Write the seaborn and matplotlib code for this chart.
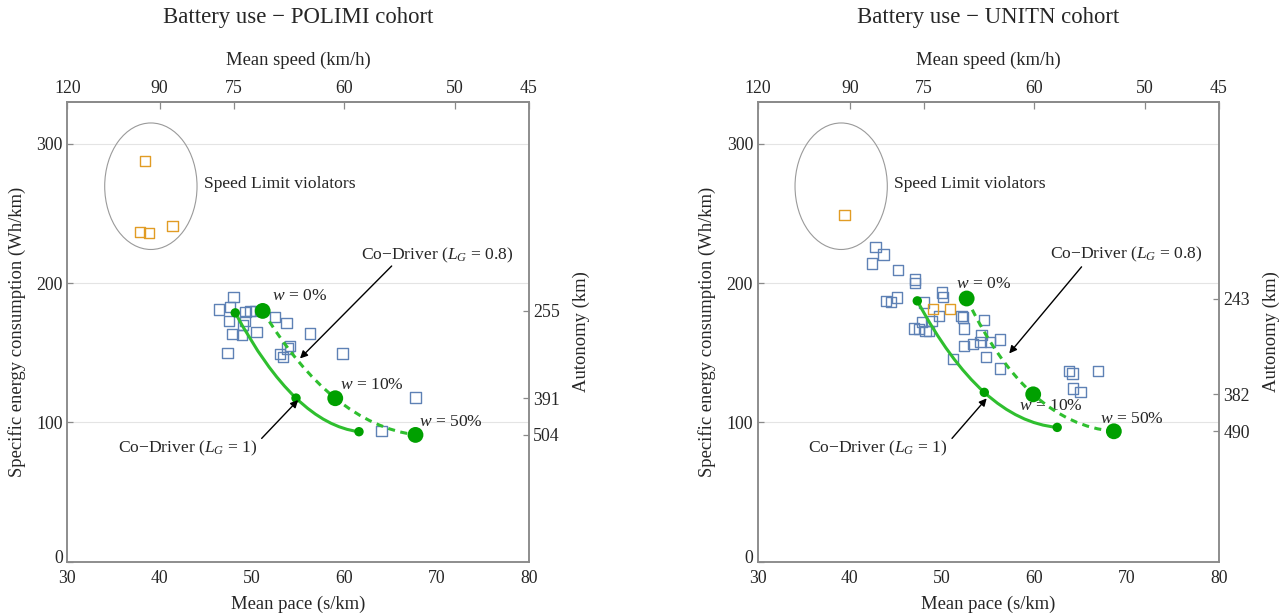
import numpy as np
import pandas as pd
import matplotlib
matplotlib.use("Agg")
import matplotlib.pyplot as plt
from matplotlib.path import Path
from matplotlib.patches import PathPatch, Ellipse
from matplotlib.transforms import ScaledTranslation
import seaborn as sns

# ---------------- data ----------------
# POLIMI cohort: mean pace (s/km) and specific energy consumption (Wh/km)
polimi_pace = [47.98, 46.46, 47.62, 47.54, 49.28, 49.79, 50.33, 49.24, 49.06, 48.89,
               47.91, 50.51, 47.37, 52.49, 53.76, 56.28, 54.12, 53.83, 53.03, 53.39,
               59.82, 67.73, 64.05]
polimi_cons = [190.1, 181.0, 182.9, 172.9, 179.3, 180.1, 180.1, 172.9, 169.8, 162.6,
               163.4, 165.0, 150.0, 175.8, 171.5, 163.8, 154.8, 153.1, 149.0, 147.1,
               149.5, 118.0, 94.1]
polimi_violator_pace = [38.41, 37.87, 38.88, 41.41]
polimi_violator_cons = [287.5, 236.7, 236.0, 241.0]
polimi_cd1_pace = [48.19, 54.77, 61.59]       # Co-Driver, L_G = 1
polimi_cd1_cons = [178.6, 117.5, 93.4]
polimi_cd08_pace = [51.16, 59.02, 67.71]      # Co-Driver, L_G = 0.8
polimi_cd08_cons = [180.0, 117.4, 91.1]

# UNITN cohort
unitn_pace = [42.79, 43.62, 42.39, 45.21, 47.05, 47.05, 43.91, 44.43, 45.07, 49.97,
              50.11, 48.02, 49.68, 48.86, 47.78, 46.94, 47.48, 48.21, 48.60, 52.11,
              52.28, 54.52, 52.36, 54.27, 56.26, 55.17, 54.17, 53.36, 52.36, 54.74,
              56.26, 51.20, 63.76, 64.13, 66.90, 64.20, 65.00]
unitn_cons = [225.9, 220.4, 214.0, 209.5, 202.5, 200.1, 187.2, 186.5, 189.6, 193.1,
              189.9, 186.0, 176.3, 172.9, 172.2, 167.4, 166.9, 165.7, 165.5, 176.3,
              175.3, 173.4, 167.4, 162.6, 159.5, 157.8, 157.8, 156.2, 154.8, 147.1,
              138.8, 145.4, 137.1, 135.2, 136.8, 124.4, 122.0]
unitn_violator_pace = [39.39, 48.97, 50.84]
unitn_violator_cons = [248.6, 181.5, 181.5]
unitn_cd1_pace = [47.30, 54.56, 62.46]
unitn_cd1_cons = [187.2, 121.6, 96.5]
unitn_cd08_pace = [52.65, 59.86, 68.60]
unitn_cd08_cons = [188.9, 120.2, 93.7]

battery_wh = 45900                      # usable battery energy (Wh)
speed_ticks = [120, 90, 75, 60, 50, 45]  # km/h
pace_ticks = [30, 40, 50, 60, 70, 80]
cons_ticks = [0, 100, 200, 300]
weights = ["0%", "10%", "50%"]

# ---------------- style ----------------
sns.set_style("white")
plt.rcParams["font.family"] = ["Liberation Serif", "DejaVu Serif"]
plt.rcParams["mathtext.fontset"] = "custom"
plt.rcParams["mathtext.rm"] = "Liberation Serif"
plt.rcParams["mathtext.it"] = "Liberation Serif:italic"
plt.rcParams["mathtext.bf"] = "Liberation Serif:bold"

BLUE = "#5e81b5"
ORANGE = "#e19c24"
GREEN_LINE = "#2fbf2f"
GREEN_DOT = "#00a000"
SPINE = "#8a8a8a"
GRID = "#e4e4e4"
TICK_FS = 12.8
LABEL_FS = 13.4
ANN_FS = 12.6
TITLE_FS = 16.4


def to_speed(p):
    p = np.asarray(p, dtype=float)
    with np.errstate(divide="ignore", invalid="ignore"):
        return 3600.0 / p


def smooth_curve(ax, xs, ys, **kw):
    """Quadratic Bezier passing through the three given points."""
    p0, m, p2 = np.column_stack([xs, ys]).astype(float)
    ctrl = 2 * m - 0.5 * (p0 + p2)
    path = Path([p0, ctrl, p2], [Path.MOVETO, Path.CURVE3, Path.CURVE3])
    ax.add_patch(PathPatch(path, fill=False, **kw))


def panel(ax, title, pace, cons, vpace, vcons, cd1x, cd1y, cd08x, cd08y, layout):
    ax.set_xlim(30, 80)
    ax.set_ylim(0, 330)

    drivers = pd.DataFrame({"pace": pace, "cons": cons})
    violators = pd.DataFrame({"pace": vpace, "cons": vcons})
    sns.scatterplot(data=drivers, x="pace", y="cons", ax=ax, marker="s", s=56,
                    facecolor="none", edgecolor=BLUE, linewidth=1.0, zorder=3)
    sns.scatterplot(data=violators, x="pace", y="cons", ax=ax, marker="s", s=56,
                    facecolor="none", edgecolor=ORANGE, linewidth=1.0, zorder=3)

    # Co-Driver trade-off curves
    smooth_curve(ax, cd1x, cd1y, edgecolor=GREEN_LINE, lw=2.2, zorder=4,
                 capstyle="round")
    smooth_curve(ax, cd08x, cd08y, edgecolor=GREEN_LINE, lw=2.2, zorder=4,
                 linestyle=(0, (2.3, 1.8)), capstyle="butt")
    sns.scatterplot(x=cd1x, y=cd1y, ax=ax, s=46, color=GREEN_DOT,
                    edgecolor="none", zorder=5)
    sns.scatterplot(x=cd08x, y=cd08y, ax=ax, s=130, color=GREEN_DOT,
                    edgecolor="none", zorder=5)

    # speed limit violators
    ax.add_patch(Ellipse((39.05, 269.4), width=10.0, height=90.7, fill=False,
                         edgecolor="#9a9a9a", lw=0.8, zorder=2))
    ax.text(44.8, 271.0, "Speed Limit violators", fontsize=ANN_FS,
            ha="left", va="center")

    for w, (tx, ty) in zip(weights, layout["w"]):
        ax.text(tx, ty, f"$w$ = {w}", fontsize=ANN_FS, ha="center", va="center")

    arrow = dict(arrowstyle="-|>", color="black", lw=1.0, mutation_scale=11,
                 shrinkA=0, shrinkB=0)
    ax.text(*layout["t08"], "Co\u2212Driver ($L_G$ = 0.8)", fontsize=ANN_FS,
            ha="center", va="center")
    ax.annotate("", xy=layout["a08"][1], xytext=layout["a08"][0],
                arrowprops=arrow, zorder=6)
    ax.text(*layout["t1"], "Co\u2212Driver ($L_G$ = 1)", fontsize=ANN_FS,
            ha="center", va="center")
    ax.annotate("", xy=layout["a1"][1], xytext=layout["a1"][0],
                arrowprops=arrow, zorder=6)

    # bottom / left axes
    ax.set_xticks(pace_ticks)
    ax.set_yticks(cons_ticks)
    ax.yaxis.grid(True, color=GRID, lw=0.8)
    ax.xaxis.grid(False)
    ax.set_axisbelow(True)
    ax.tick_params(axis="x", direction="in", length=5, width=0.9, color=SPINE,
                   labelsize=TICK_FS, pad=5.5, top=False)
    ax.tick_params(axis="y", direction="in", length=4, width=0.9, color=SPINE,
                   labelsize=TICK_FS, pad=3.3, right=False)
    for sp in ax.spines.values():
        sp.set_color(SPINE)
        sp.set_linewidth(1.1)
    ax.set_xlabel("Mean pace (s/km)", fontsize=LABEL_FS, va="center")
    ax.xaxis.set_label_coords(0.5, -0.0912)
    ax.set_ylabel("Specific energy consumption (Wh/km)", fontsize=LABEL_FS,
                  va="center")
    ax.yaxis.set_label_coords(-0.1096, 0.5)
    # lift the corner "0" label a little so it clears the "30" below it
    zero_lbl = ax.yaxis.get_major_ticks()[0].label1
    zero_lbl.set_transform(zero_lbl.get_transform()
                           + ScaledTranslation(0, 4 / 72, ax.figure.dpi_scale_trans))

    # top axis: mean speed
    sec = ax.secondary_xaxis("top", functions=(to_speed, to_speed))
    sec.set_xticks(speed_ticks)
    sec.tick_params(direction="in", length=5, width=0.9, color=SPINE,
                    labelsize=TICK_FS, pad=3.6)
    sec.spines["top"].set_color(SPINE)
    sec.spines["top"].set_linewidth(1.1)
    sec.set_xlabel("Mean speed (km/h)", fontsize=LABEL_FS, labelpad=10.5)

    # right axis: autonomy at the L_G = 0.8 operating points
    tw = ax.twinx()
    tw.set_ylim(ax.get_ylim())
    tw.set_yticks(cd08y)
    tw.set_yticklabels([f"{battery_wh / c:.0f}" for c in cd08y])
    tw.tick_params(axis="y", direction="in", length=4, width=0.9, color=SPINE,
                   labelsize=TICK_FS, pad=3.1)
    for sp in tw.spines.values():
        sp.set_color(SPINE)
        sp.set_linewidth(1.1)
    tw.set_ylabel("Autonomy (km)", fontsize=LABEL_FS, va="center", rotation=90)
    tw.yaxis.set_label_coords(1.1142, 0.5)

    ax.set_title(title, fontsize=TITLE_FS, pad=57)


fig = plt.figure(figsize=(12.87, 6.16), dpi=100)
ax_l = fig.add_axes([0.0523, 0.0877, 0.3587, 0.7472])
ax_r = fig.add_axes([0.5887, 0.0877, 0.3585, 0.7472])

panel(ax_l, "Battery use \u2212 POLIMI cohort", polimi_pace, polimi_cons,
      polimi_violator_pace, polimi_violator_cons,
      polimi_cd1_pace, polimi_cd1_cons, polimi_cd08_pace, polimi_cd08_cons,
      dict(w=[(55.1, 190.6), (62.97, 126.8), (71.59, 100.5)],
           t08=(70.04, 220.0), a08=((65.13, 212.2), (55.2, 145.9)),
           t1=(43.0, 81.7), a1=((51.05, 88.6), (55.0, 116.1))))
panel(ax_r, "Battery use \u2212 UNITN cohort", unitn_pace, unitn_cons,
      unitn_violator_pace, unitn_violator_cons,
      unitn_cd1_pace, unitn_cd1_cons, unitn_cd08_pace, unitn_cd08_cons,
      dict(w=[(54.5, 199.2), (61.76, 111.8), (70.52, 102.5)],
           t08=(69.98, 220.4), a08=((65.1, 211.6), (57.26, 149.5)),
           t1=(43.0, 81.7), a1=((51.06, 88.6), (54.82, 117.3))))

fig.savefig("out.png", dpi=100)
